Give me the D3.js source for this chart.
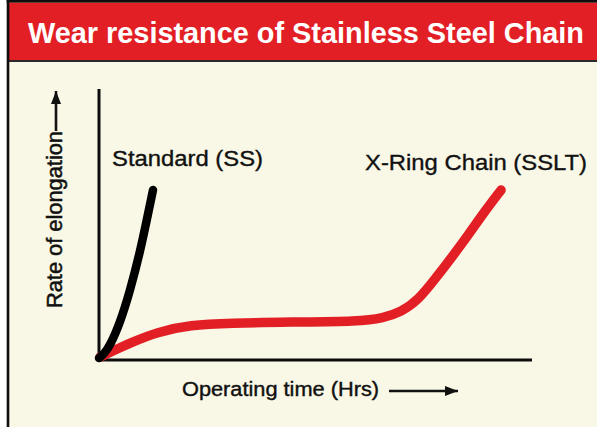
<!DOCTYPE html>
<html>
<head>
<meta charset="utf-8">
<script src="https://cdn.jsdelivr.net/npm/d3@7"></script>
<style>
  html, body { margin: 0; padding: 0; background: #ffffff; }
  svg { display: block; }
</style>
</head>
<body>
<svg id="chart" width="597" height="427"></svg>
<script>
// Chart text
const titleText = "Wear resistance of Stainless Steel Chain";
const xAxisLabel = "Operating time (Hrs)";
const yAxisLabel = "Rate of elongation";
const seriesNames = ["Standard (SS)", "X-Ring Chain (SSLT)"];

// Relative operating time (0-100) and elongation (0-100) for each chain
const standardTime       = [0.12, 1.27, 2.67, 4.98, 7.30, 9.62, 11.24, 12.63];
const standardElongation = [0.56, 2.04, 5.19, 13.54, 25.42, 39.89, 52.13, 62.89];

const xringTime       = [0.35, 3.82, 7.30, 13.56, 21.21, 30.48, 44.38, 60.60, 65.93, 70.16, 74.10, 77.81, 81.75, 85.69, 89.40, 93.30];
const xringElongation = [0.93, 3.53, 6.12, 10.20, 12.80, 13.54, 13.91, 14.10, 15.40, 17.63, 22.08, 29.50, 37.66, 46.20, 54.73, 62.89];

const W = 597, H = 427;
const RED = "#e31f26", CREAM = "#f9f8e6", INK = "#0d0d0d";

const svg = d3.select("#chart");

// Panel frame: cream body, red title band, black border on left and top
svg.append("rect").attr("x", 0).attr("y", 0).attr("width", W).attr("height", H).attr("fill", "#ffffff");
svg.append("rect").attr("x", 9).attr("y", 0).attr("width", W - 9).attr("height", H).attr("fill", CREAM);
svg.append("rect").attr("x", 9).attr("y", 2.5).attr("width", W - 9).attr("height", 57.5).attr("fill", RED);
svg.append("rect").attr("x", 9).attr("y", 60).attr("width", W - 9).attr("height", 2).attr("fill", "#2a2a2a");
svg.append("rect").attr("x", 6.7).attr("y", 0).attr("width", 2.6).attr("height", H).attr("fill", INK);
svg.append("rect").attr("x", 6.7).attr("y", 0).attr("width", W - 6.7).attr("height", 2.6).attr("fill", INK);

svg.append("text")
  .attr("x", 28).attr("y", 43)
  .attr("font-family", "'Liberation Sans', Arial, sans-serif")
  .attr("font-weight", "bold")
  .attr("font-size", 29.5)
  .attr("fill", "#ffffff")
  .attr("textLength", 556)
  .attr("lengthAdjust", "spacingAndGlyphs")
  .text(titleText);

// Scales
const x = d3.scaleLinear().domain([0, 100]).range([98.5, 530]);
const y = d3.scaleLinear().domain([0, 100]).range([359.5, 90]);

// Axes: plain lines, no ticks
const xAxis = svg.append("g").attr("transform", `translate(0,${y(0)})`)
  .call(d3.axisBottom(x).ticks(0).tickSizeOuter(0));
const yAxis = svg.append("g").attr("transform", `translate(${x(0)},0)`)
  .call(d3.axisLeft(y).ticks(0).tickSizeOuter(0));
[xAxis, yAxis].forEach(g => g.select(".domain")
  .attr("stroke", INK).attr("stroke-width", 3).attr("stroke-linecap", "square"));

// Curves: smoothed B-spline through the readings
const line = d3.line()
  .x(d => x(d[0])).y(d => y(d[1]))
  .curve(d3.curveBasis);

const xringData = xringTime.map((t, i) => [t, xringElongation[i]]);
const standardData = standardTime.map((t, i) => [t, standardElongation[i]]);

svg.append("path").datum(xringData)
  .attr("d", line)
  .attr("fill", "none").attr("stroke", RED)
  .attr("stroke-width", 9.5).attr("stroke-linecap", "round").attr("stroke-linejoin", "round");

svg.append("path").datum(standardData)
  .attr("d", line)
  .attr("fill", "none").attr("stroke", "#000000")
  .attr("stroke-width", 8.5).attr("stroke-linecap", "round").attr("stroke-linejoin", "round");

// Text helper: slightly heavier regular weight
const labelFont = "'Liberation Sans', Arial, sans-serif";
function label(sel, weight) {
  return sel.attr("font-family", labelFont).attr("fill", "#111")
    .attr("stroke", "#111").attr("stroke-width", weight)
    .attr("lengthAdjust", "spacingAndGlyphs");
}

// Series labels
label(svg.append("text"), 0.35)
  .attr("x", 112).attr("y", 165.5)
  .attr("font-size", 21.5)
  .attr("textLength", 151)
  .text(seriesNames[0]);
label(svg.append("text"), 0.35)
  .attr("x", 365).attr("y", 169.5)
  .attr("font-size", 22)
  .attr("textLength", 222)
  .text(seriesNames[1]);

// Arrowhead marker
const defs = svg.append("defs");
defs.append("marker")
  .attr("id", "arrow")
  .attr("viewBox", "0 0 13 10")
  .attr("refX", 13).attr("refY", 5)
  .attr("markerWidth", 13).attr("markerHeight", 10)
  .attr("markerUnits", "userSpaceOnUse")
  .attr("orient", "auto")
  .append("path").attr("d", "M0,0 L13,5 L0,10 Z").attr("fill", "#111");

// X axis title with arrow
label(svg.append("text"), 0.4)
  .attr("x", 182).attr("y", 396)
  .attr("font-size", 20)
  .attr("textLength", 197)
  .text(xAxisLabel);
svg.append("line")
  .attr("x1", 389).attr("y1", 391).attr("x2", 458).attr("y2", 391)
  .attr("stroke", "#111").attr("stroke-width", 2.6)
  .attr("marker-end", "url(#arrow)");

// Y axis title with arrow
label(svg.append("text"), 0.5)
  .attr("transform", "translate(62,308) rotate(-90)")
  .attr("font-size", 21.5)
  .attr("textLength", 177)
  .text(yAxisLabel);
svg.append("line")
  .attr("x1", 56).attr("y1", 131).attr("x2", 56).attr("y2", 91)
  .attr("stroke", "#111").attr("stroke-width", 2.6)
  .attr("marker-end", "url(#arrow)");
</script>
</body>
</html>
